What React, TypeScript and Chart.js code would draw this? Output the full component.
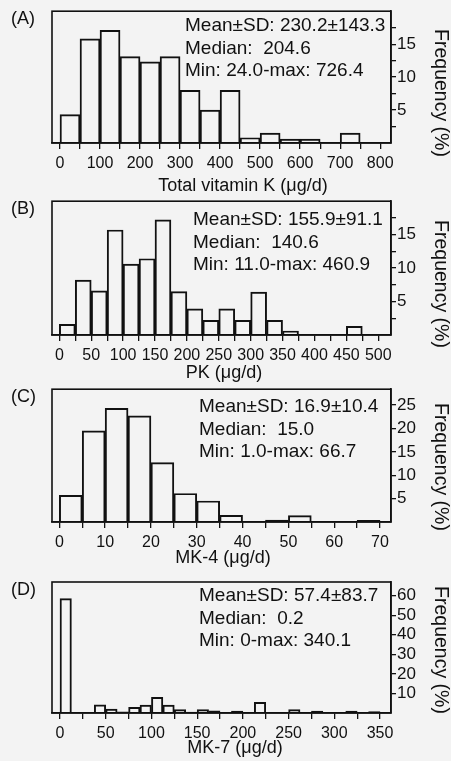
import React, { useEffect, useRef } from "react";
import { Chart, registerables } from "chart.js";

Chart.register(...registerables);

// ---------- DATA ----------
// (A) Total vitamin K, bins of 50 µg/d from 0 to 800
const A_BIN = 50;
const A_FREQ = [4.3, 15.8, 17.1, 13.1, 12.3, 13.1, 8.0, 5.0, 8.0, 0.8, 1.5, 0.6, 0.6, 0, 1.5, 0];
const A_X_TICKS = [0, 50, 100, 150, 200, 250, 300, 350, 400, 450, 500, 550, 600, 650, 700, 750, 800];
const A_X_LABELS = [0, 100, 200, 300, 400, 500, 600, 700, 800];
const A_Y_TICKS = [2.5, 5, 7.5, 10, 12.5, 15, 17.5];
const A_Y_LABELS = [5, 10, 15];
const A_STATS = ["Mean±SD: 230.2±143.3", "Median:  204.6", "Min: 24.0-max: 726.4"];

// (B) PK, bins of 25 µg/d from 0 to 500
const B_BIN = 25;
const B_FREQ = [1.6, 8.2, 6.6, 15.7, 10.6, 11.4, 17.2, 6.5, 3.9, 2.2, 3.9, 2.2, 6.4, 2.2, 0.6, 0, 0, 0, 1.3, 0];
const B_X_TICKS = [0, 25, 50, 75, 100, 125, 150, 175, 200, 225, 250, 275, 300, 325, 350, 375, 400, 425, 450, 475, 500];
const B_X_LABELS = [0, 50, 100, 150, 200, 250, 300, 350, 400, 450, 500];
const B_Y_TICKS = [2.5, 5, 7.5, 10, 12.5, 15, 17.5];
const B_Y_LABELS = [5, 10, 15];
const B_STATS = ["Mean±SD: 155.9±91.1", "Median:  140.6", "Min: 11.0-max: 460.9"];

// (C) MK-4, bins of 5 µg/d from 0 to 70
const C_BIN = 5;
const C_FREQ = [5.7, 19.5, 24.3, 22.7, 12.7, 6.1, 4.5, 1.4, 0, 0.4, 1.35, 0, 0, 0.35];
const C_X_TICKS = [0, 5, 10, 15, 20, 25, 30, 35, 40, 45, 50, 55, 60, 65, 70];
const C_X_LABELS = [0, 10, 20, 30, 40, 50, 60, 70];
const C_Y_TICKS = [5, 10, 15, 20, 25];
const C_Y_LABELS = [5, 10, 15, 20, 25];
const C_STATS = ["Mean±SD: 16.9±10.4", "Median:  15.0", "Min: 1.0-max: 66.7"];

// (D) MK-7, bins of 12.5 µg/d from 0 to 350
const D_BIN = 12.5;
const D_FREQ = [58.5, 0, 0, 4.2, 2.0, 0.6, 2.9, 4.0, 8.0, 4.0, 1.7, 0.5, 1.7, 1.1, 0, 1.0, 0, 5.5, 0, 0, 1.7, 0, 1.0, 0, 0, 1.0, 0, 0.7];
const D_X_TICKS = [0, 25, 50, 75, 100, 125, 150, 175, 200, 225, 250, 275, 300, 325, 350];
const D_X_LABELS = [0, 50, 100, 150, 200, 250, 300, 350];
const D_Y_TICKS = [10, 20, 30, 40, 50, 60];
const D_Y_LABELS = [10, 20, 30, 40, 50, 60];
const D_STATS = ["Mean±SD: 57.4±83.7", "Median:  0.2", "Min: 0-max: 340.1"];

const Y_TITLE = "Frequency (%)";

// ---------- LAYOUT ----------
const FONT = '"Liberation Sans", Arial, Helvetica, sans-serif';
const INK = "#111";
const W = 451;
const AREA_LEFT = 52;
const AREA_W = 339;
const Y_AXIS_W = 60;
const X_AXIS_H = 30;

type Panel = {
  letter: string;
  canvasTop: number;
  height: number;
  areaTop: number;
  areaBottom: number;
  bin: number;
  freq: number[];
  xMin: number;
  xMax: number;
  xTicks: number[];
  xLabels: number[];
  yMax: number;
  yTicks: number[];
  yLabels: number[];
  stats: string[];
  statsX: number;
  statsY0: number;
  xTitle: string;
  xTitleX: number;
  xTitleY: number;
  yTitleCenter: number;
};

const PANELS: Panel[] = [
  {
    letter: "(A)", canvasTop: 0, height: 198, areaTop: 11, areaBottom: 143,
    bin: A_BIN, freq: A_FREQ, xMin: -20, xMax: 827, xTicks: A_X_TICKS, xLabels: A_X_LABELS,
    yMax: 20, yTicks: A_Y_TICKS, yLabels: A_Y_LABELS, stats: A_STATS, statsX: 185, statsY0: 20,
    xTitle: "Total vitamin K (μg/d)", xTitleX: 243, xTitleY: 191, yTitleCenter: 93,
  },
  {
    letter: "(B)", canvasTop: 190, height: 198, areaTop: 11, areaBottom: 145,
    bin: B_BIN, freq: B_FREQ, xMin: -11.5, xMax: 520, xTicks: B_X_TICKS, xLabels: B_X_LABELS,
    yMax: 20, yTicks: B_Y_TICKS, yLabels: B_Y_LABELS, stats: B_STATS, statsX: 193, statsY0: 24,
    xTitle: "PK (μg/d)", xTitleX: 224, xTitleY: 188, yTitleCenter: 94,
  },
  {
    letter: "(C)", canvasTop: 378, height: 192, areaTop: 11, areaBottom: 144,
    bin: C_BIN, freq: C_FREQ, xMin: -1.6, xMax: 72.4, xTicks: C_X_TICKS, xLabels: C_X_LABELS,
    yMax: 28.4, yTicks: C_Y_TICKS, yLabels: C_Y_LABELS, stats: C_STATS, statsX: 199, statsY0: 23,
    xTitle: "MK-4 (μg/d)", xTitleX: 223, xTitleY: 185, yTitleCenter: 89,
  },
  {
    letter: "(D)", canvasTop: 570, height: 191, areaTop: 12, areaBottom: 143,
    bin: D_BIN, freq: D_FREQ, xMin: -8.75, xMax: 362, xTicks: D_X_TICKS, xLabels: D_X_LABELS,
    yMax: 67, yTicks: D_Y_TICKS, yLabels: D_Y_LABELS, stats: D_STATS, statsX: 199, statsY0: 19,
    xTitle: "MK-7 (μg/d)", xTitleX: 235, xTitleY: 183, yTitleCenter: 80,
  },
];

function HistPanel({ p }: { p: Panel }) {
  const ref = useRef<HTMLCanvasElement | null>(null);

  useEffect(() => {
    if (!ref.current) return;
    const decor = {
      id: "decor",
      afterDraw(chart: any) {
        const { ctx, chartArea } = chart;
        ctx.save();
        // frame
        ctx.strokeStyle = INK;
        ctx.lineWidth = 1.6;
        ctx.strokeRect(chartArea.left, chartArea.top, chartArea.right - chartArea.left, chartArea.bottom - chartArea.top);
        ctx.fillStyle = INK;
        ctx.textBaseline = "alphabetic";
        // panel letter
        ctx.font = `18px ${FONT}`;
        ctx.textAlign = "left";
        ctx.fillText(p.letter, 11, p.areaTop + 13);
        // stats
        ctx.font = `19px ${FONT}`;
        p.stats.forEach((s, i) => {
          ctx.fillText(s, p.statsX, p.areaTop + p.statsY0 + i * 22.5);
        });
        // x title
        ctx.textAlign = "center";
        ctx.font = `18px ${FONT}`;
        ctx.fillText(p.xTitle, p.xTitleX, p.xTitleY);
        // y title (rotated, reading downward)
        ctx.font = `19.5px ${FONT}`;
        ctx.translate(440, p.yTitleCenter);
        ctx.rotate(Math.PI / 2);
        ctx.textBaseline = "middle";
        ctx.fillText(Y_TITLE, 0, 0);
        ctx.restore();
      },
    };

    const chart = new Chart(ref.current, {
      type: "bar",
      data: {
        datasets: [
          {
            data: p.freq.map((f, i) => ({ x: (i + 0.5) * p.bin, y: f })),
            backgroundColor: "rgba(0,0,0,0)",
            borderColor: INK,
            borderWidth: 1.3,
            barPercentage: 1,
            categoryPercentage: 1,
          } as any,
        ],
      },
      options: {
        responsive: false,
        animation: false,
        devicePixelRatio: 1,
        layout: {
          padding: {
            left: AREA_LEFT,
            top: p.areaTop,
            right: W - AREA_LEFT - AREA_W - Y_AXIS_W,
            bottom: p.height - p.areaBottom - X_AXIS_H,
          },
        },
        plugins: { legend: { display: false }, tooltip: { enabled: false }, title: { display: false } },
        scales: {
          x: {
            type: "linear",
            min: p.xMin,
            max: p.xMax,
            offset: false,
            afterBuildTicks: (scale: any) => {
              scale.ticks = p.xTicks.map((v) => ({ value: v }));
            },
            afterFit: (scale: any) => {
              scale.height = X_AXIS_H;
            },
            grid: { display: true, drawOnChartArea: false, drawTicks: true, tickLength: 6, color: INK, lineWidth: 1.3, offset: false },
            border: { display: true, color: INK, width: 1.6 },
            ticks: {
              autoSkip: false,
              maxRotation: 0,
              minRotation: 0,
              padding: 5,
              color: INK,
              font: { size: 16, family: FONT },
              callback: (v: any) => (p.xLabels.includes(Number(v)) ? String(v) : ""),
            },
          },
          y: {
            type: "linear",
            position: "right",
            min: 0,
            max: p.yMax,
            afterBuildTicks: (scale: any) => {
              scale.ticks = p.yTicks.map((v) => ({ value: v }));
            },
            afterFit: (scale: any) => {
              scale.width = Y_AXIS_W;
            },
            grid: { display: true, drawOnChartArea: false, drawTicks: true, tickLength: 5, color: INK, lineWidth: 1.3 },
            border: { display: true, color: INK, width: 1.6 },
            ticks: {
              autoSkip: false,
              padding: 1,
              color: INK,
              font: { size: 17, family: FONT },
              callback: (v: any) => (p.yLabels.includes(Number(v)) ? String(v) : ""),
            },
          },
        },
      } as any,
      plugins: [decor],
    });
    return () => chart.destroy();
  }, [p]);

  return (
    <canvas
      ref={ref}
      width={W}
      height={p.height}
      style={{ position: "absolute", left: 0, top: p.canvasTop, width: W, height: p.height }}
    />
  );
}

export default function App() {
  return (
    <div
      style={{
        position: "fixed",
        left: 0,
        top: 0,
        width: W,
        height: 761,
        background: "#f3f3f3",
        overflow: "hidden",
      }}
    >
      {PANELS.map((p) => (
        <HistPanel key={p.letter} p={p} />
      ))}
    </div>
  );
}
